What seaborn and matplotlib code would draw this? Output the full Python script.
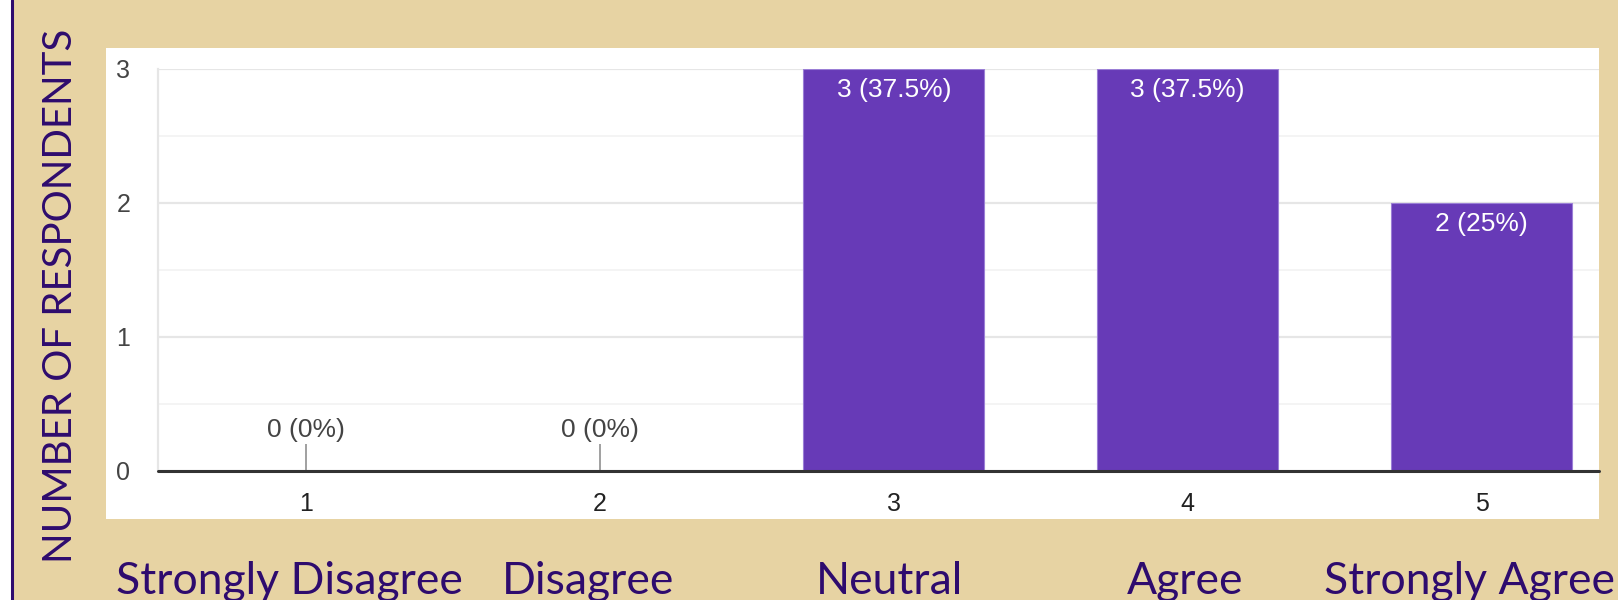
import matplotlib
matplotlib.use("Agg")
import matplotlib.pyplot as plt
from matplotlib.patches import Rectangle
from matplotlib.lines import Line2D
import seaborn as sns
import pandas as pd
import numpy as np

# ---- data ----
scale_points = ["1", "2", "3", "4", "5"]
category_names = ["Strongly Disagree", "Disagree", "Neutral", "Agree", "Strongly Agree"]
counts = [0, 0, 3, 3, 2]
y_ticks = [0, 1, 2, 3]
y_label = "NUMBER OF RESPONDENTS"

df = pd.DataFrame({"point": scale_points, "count": counts})
total = sum(counts)

# ---- style ----
sns.set_theme(style="white")
plt.rcParams["font.family"] = ["Liberation Sans", "DejaVu Sans"]

W, H = 1618, 600
TAN = "#E7D3A3"
DARK_PURPLE = "#2E0B6E"
BAR = "#673AB7"

fig = plt.figure(figsize=(W / 100, H / 100), dpi=100, facecolor=TAN)

def fx(px):
    return px / W

def fy(py):
    return 1 - py / H

# left white strip and purple rule
fig.patches.append(Rectangle((0, 0), fx(11), 1, transform=fig.transFigure,
                             facecolor="white", edgecolor="none", zorder=-2))
fig.lines.append(Line2D([fx(12.3), fx(12.3)], [0, 1], transform=fig.transFigure,
                        color=DARK_PURPLE, lw=2.2, zorder=-1))
# white chart panel
fig.patches.append(Rectangle((fx(106), fy(519)), fx(1599 - 106), (519 - 48) / H,
                             transform=fig.transFigure, facecolor="white",
                             edgecolor="none", zorder=-2))

ax = fig.add_axes([fx(158), fy(471), fx(1599 - 158), (471 - 69) / H])
ax.set_zorder(5)
ax.set_facecolor("white")

sns.barplot(data=df, x="point", y="count", color=BAR, width=0.616,
            saturation=1, ax=ax, zorder=3, edgecolor="#9B7FD6", linewidth=0.8)

ax.set_xlim(-0.505, 4.40)
ax.set_ylim(0, 3)
ax.set_yticks(y_ticks)
ax.set_yticks([0.5, 1.5, 2.5], minor=True)
ax.grid(axis="y", which="major", color="#E6E6E6", lw=1.6, zorder=0)
ax.grid(axis="y", which="minor", color="#F3F3F3", lw=1.3, zorder=0)
ax.grid(axis="x", visible=False)
ax.set_axisbelow(True)
for s in ["top", "right", "bottom"]:
    ax.spines[s].set_visible(False)
ax.spines["left"].set_color("#E6E6E6")
ax.spines["left"].set_linewidth(1.6)
ax.axhline(0, color="#333333", lw=2.2, zorder=5, clip_on=False)

ax.tick_params(axis="y", which="both", length=0, pad=20, labelsize=18, labelcolor="#444444")
ax.tick_params(axis="x", length=0, pad=15, labelsize=18, labelcolor="#222222")
ax.set_xlabel("")
ax.set_ylabel("")

# value labels
for i, c in enumerate(counts):
    pct = 100 * c / total
    label = f"{c} ({pct:g}%)"
    if c == 0:
        ax.vlines(i, 0, 0.2, color="#999999", lw=1.3, zorder=4)
        ax.text(i, 0.306, label, ha="center", va="center", fontsize=19, color="#444444")
    else:
        ax.text(i, c - 0.155, label, ha="center", va="center", fontsize=19, color="white", zorder=6)

# category names under the panel
name_x = [289, 588, 890, 1185, 1470]
for nx, name in zip(name_x, category_names):
    fig.text(fx(nx), fy(581), name, ha="center", va="center", fontsize=32,
             color=DARK_PURPLE, family=["Lato", "DejaVu Sans"])

fig.text(fx(61), fy(296), y_label, rotation=90, ha="center", va="center", fontsize=29,
         color=DARK_PURPLE, family=["Lato", "DejaVu Sans"])

fig.savefig("out.png", dpi=100, facecolor=TAN)
